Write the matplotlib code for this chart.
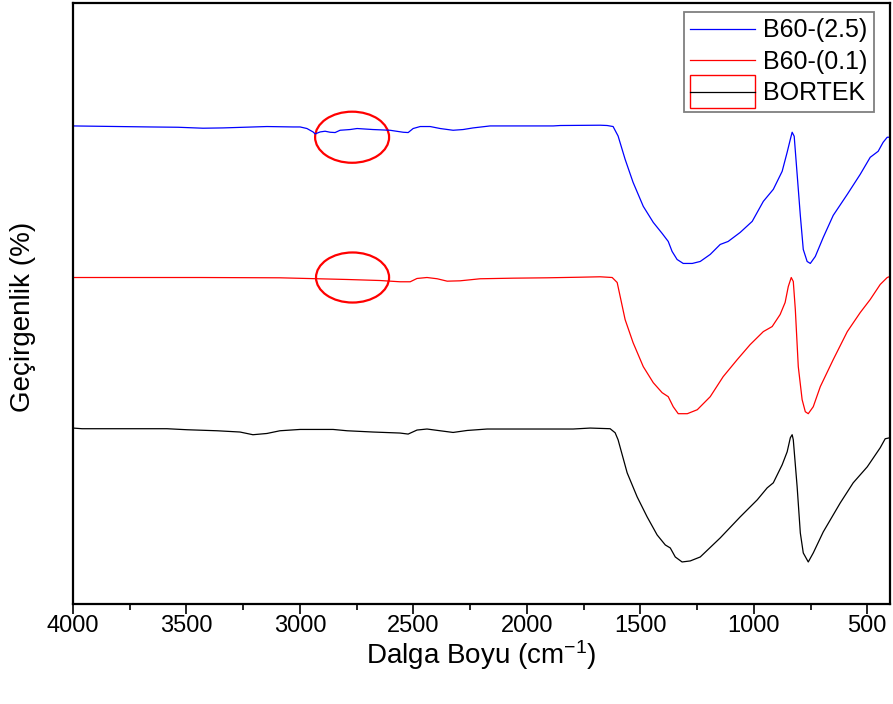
import numpy as np
import matplotlib
matplotlib.use('Agg')
import matplotlib.pyplot as plt
import matplotlib.patches as mpatches
from matplotlib.lines import Line2D
from matplotlib.legend_handler import HandlerPatch, HandlerTuple
from matplotlib.ticker import MultipleLocator

plt.rcParams['font.family'] = ['Liberation Sans', 'DejaVu Sans']
plt.rcParams['mathtext.default'] = 'regular'

## FTIR spectra, wavenumber (cm-1) vs transmittance (offset, arbitrary)
wn_b25 = [4000, 3661, 3537, 3427, 3339, 3145, 3030, 2999, 2969, 2942, 2933, 2911, 2889,
          2867, 2845, 2823, 2779, 2748, 2678, 2603, 2545, 2523, 2501, 2470, 2426, 2382,
          2325, 2281, 2237, 2162, 2030, 1884, 1853, 1677, 1646, 1620, 1598, 1567, 1532,
          1487, 1443, 1404, 1377, 1360, 1338, 1311, 1271, 1236, 1192, 1148, 1113, 1060,
          1007, 958, 914, 875, 853, 839, 831, 822, 809, 795, 782, 765, 751, 729, 694,
          650, 588, 531, 487, 452, 430, 412, 400]
t_b25 = [79.55, 79.38, 79.33, 79.17, 79.22, 79.45, 79.38, 79.38, 79.12, 78.55, 78.22, 78.55,
         78.67, 78.5, 78.45, 78.83, 78.95, 79.12, 78.95, 78.83, 78.5, 78.45, 79.12, 79.45,
         79.45, 79.12, 78.83, 78.95, 79.22, 79.55, 79.55, 79.55, 79.62, 79.67, 79.62, 79.45,
         77.88, 74.0, 70.17, 66.17, 63.5, 61.67, 60.33, 58.67, 57.33, 56.67, 56.67, 57.0,
         58.17, 59.83, 60.33, 61.83, 63.67, 67.0, 69.0, 72.0, 75.17, 77.33, 78.5, 77.83,
         71.5, 64.67, 59.0, 57.0, 56.67, 57.83, 61.0, 64.67, 68.17, 71.5, 74.33, 75.33,
         76.83, 77.67, 77.67]

wn_b01 = [4000, 3440, 3088, 2792, 2647, 2559, 2514, 2484, 2440, 2395, 2351, 2294, 2206,
          2060, 1911, 1765, 1677, 1624, 1602, 1567, 1532, 1487, 1443, 1404, 1377, 1355,
          1333, 1293, 1249, 1192, 1135, 1073, 1016, 958, 919, 884, 862, 848, 835, 826,
          817, 804, 787, 773, 760, 738, 707, 650, 588, 531, 487, 443, 412, 400]
t_b01 = [54.33, 54.33, 54.28, 54.0, 53.83, 53.62, 53.62, 54.17, 54.33, 54.12, 53.72, 53.78,
         54.12, 54.22, 54.28, 54.38, 54.45, 54.33, 53.5, 47.33, 43.5, 39.5, 36.83, 35.17,
         34.5, 32.83, 31.67, 31.67, 32.33, 34.5, 37.83, 40.67, 43.17, 45.33, 46.17, 48.17,
         50.17, 52.83, 54.33, 53.67, 49.0, 39.5, 34.0, 32.0, 31.67, 32.83, 36.17, 40.67,
         45.33, 48.5, 50.67, 53.17, 54.33, 54.5]

wn_bortek = [4000, 3960, 3586, 3497, 3365, 3264, 3207, 3145, 3088, 2999, 2854, 2792, 2678,
             2559, 2523, 2484, 2440, 2382, 2325, 2263, 2175, 2043, 1796, 1721, 1633, 1611,
             1598, 1558, 1514, 1470, 1426, 1390, 1368, 1346, 1316, 1280, 1236, 1148, 1060,
             985, 941, 914, 875, 853, 839, 831, 826, 809, 795, 782, 760, 738, 694, 619,
             562, 500, 443, 421, 400]
t_bortek = [29.28, 29.17, 29.17, 29.0, 28.83, 28.62, 28.17, 28.38, 28.83, 29.05, 29.05,
            28.83, 28.62, 28.45, 28.28, 28.95, 29.12, 28.83, 28.55, 28.88, 29.12, 29.12,
            29.12, 29.28, 29.17, 28.5, 27.33, 21.83, 17.83, 14.5, 11.5, 9.83, 9.33, 7.83,
            7.0, 7.17, 7.83, 11.0, 14.5, 17.33, 19.33, 20.17, 23.17, 25.33, 27.67, 28.17,
            27.33, 19.5, 11.83, 8.5, 7.0, 8.5, 12.0, 16.83, 20.17, 22.83, 26.0, 27.5, 27.67]

labels = ['B60-(2.5)', 'B60-(0.1)', 'BORTEK']
colors = ['#0000ff', '#ff0000', 'black']

# circled regions (center wn, center T, width, height)
circles = [(2770, 77.67, 326, 8.5), (2768, 54.33, 322, 8.33)]

fig = plt.figure(figsize=(8.93, 7.04), dpi=100)
ax = fig.add_axes([0.0817, 0.142, 0.9149, 0.8537])

l1, = ax.plot(wn_b25, t_b25, color=colors[0], lw=0.9)
l2, = ax.plot(wn_b01, t_b01, color=colors[1], lw=0.9)
l3, = ax.plot(wn_bortek, t_bortek, color=colors[2], lw=0.9)

for cx, cy, w, h in circles:
    ax.add_patch(mpatches.Ellipse((cx, cy), w, h, fill=False, edgecolor='red', lw=1.6))

ax.set_xlim(4000, 400)
ax.set_ylim(0, 100)
ax.xaxis.set_major_locator(MultipleLocator(500))
ax.xaxis.set_minor_locator(MultipleLocator(250))
ax.tick_params(axis='x', which='major', direction='out', length=7, width=1.2,
               labelsize=17, pad=1)
ax.tick_params(axis='x', which='minor', direction='out', length=4, width=1.2)
ax.set_yticks([])
for s in ax.spines.values():
    s.set_linewidth(1.6)

ax.set_xlabel('Dalga Boyu (cm$^{-1}$)', fontsize=20, labelpad=1)
ax.set_ylabel('Geçirgenlik (%)', fontsize=20)
ax.yaxis.set_label_coords(-0.045, 0.477)


def tall_box(legend, orig_handle, xdescent, ydescent, width, height, fontsize):
    return mpatches.Rectangle((-xdescent, -ydescent - 0.45 * height), width, height * 1.9)


box = mpatches.Rectangle((0, 0), 1, 1, facecolor='none', edgecolor='red', lw=1.0)
l3_handle = Line2D([], [], color='black', lw=0.9)
leg = ax.legend([l1, l2, (box, l3_handle)], labels,
                handler_map={mpatches.Rectangle: HandlerPatch(patch_func=tall_box),
                             tuple: HandlerTuple(ndivide=1)},
                loc='upper right', bbox_to_anchor=(0.98, 0.985), borderaxespad=0,
                fontsize=18, fancybox=False, framealpha=1, edgecolor='#7f7f7f',
                handlelength=2.6, handletextpad=0.3, labelspacing=0.3, borderpad=0.25)
leg.get_frame().set_linewidth(1.3)

plt.savefig('out.png', dpi=100)
